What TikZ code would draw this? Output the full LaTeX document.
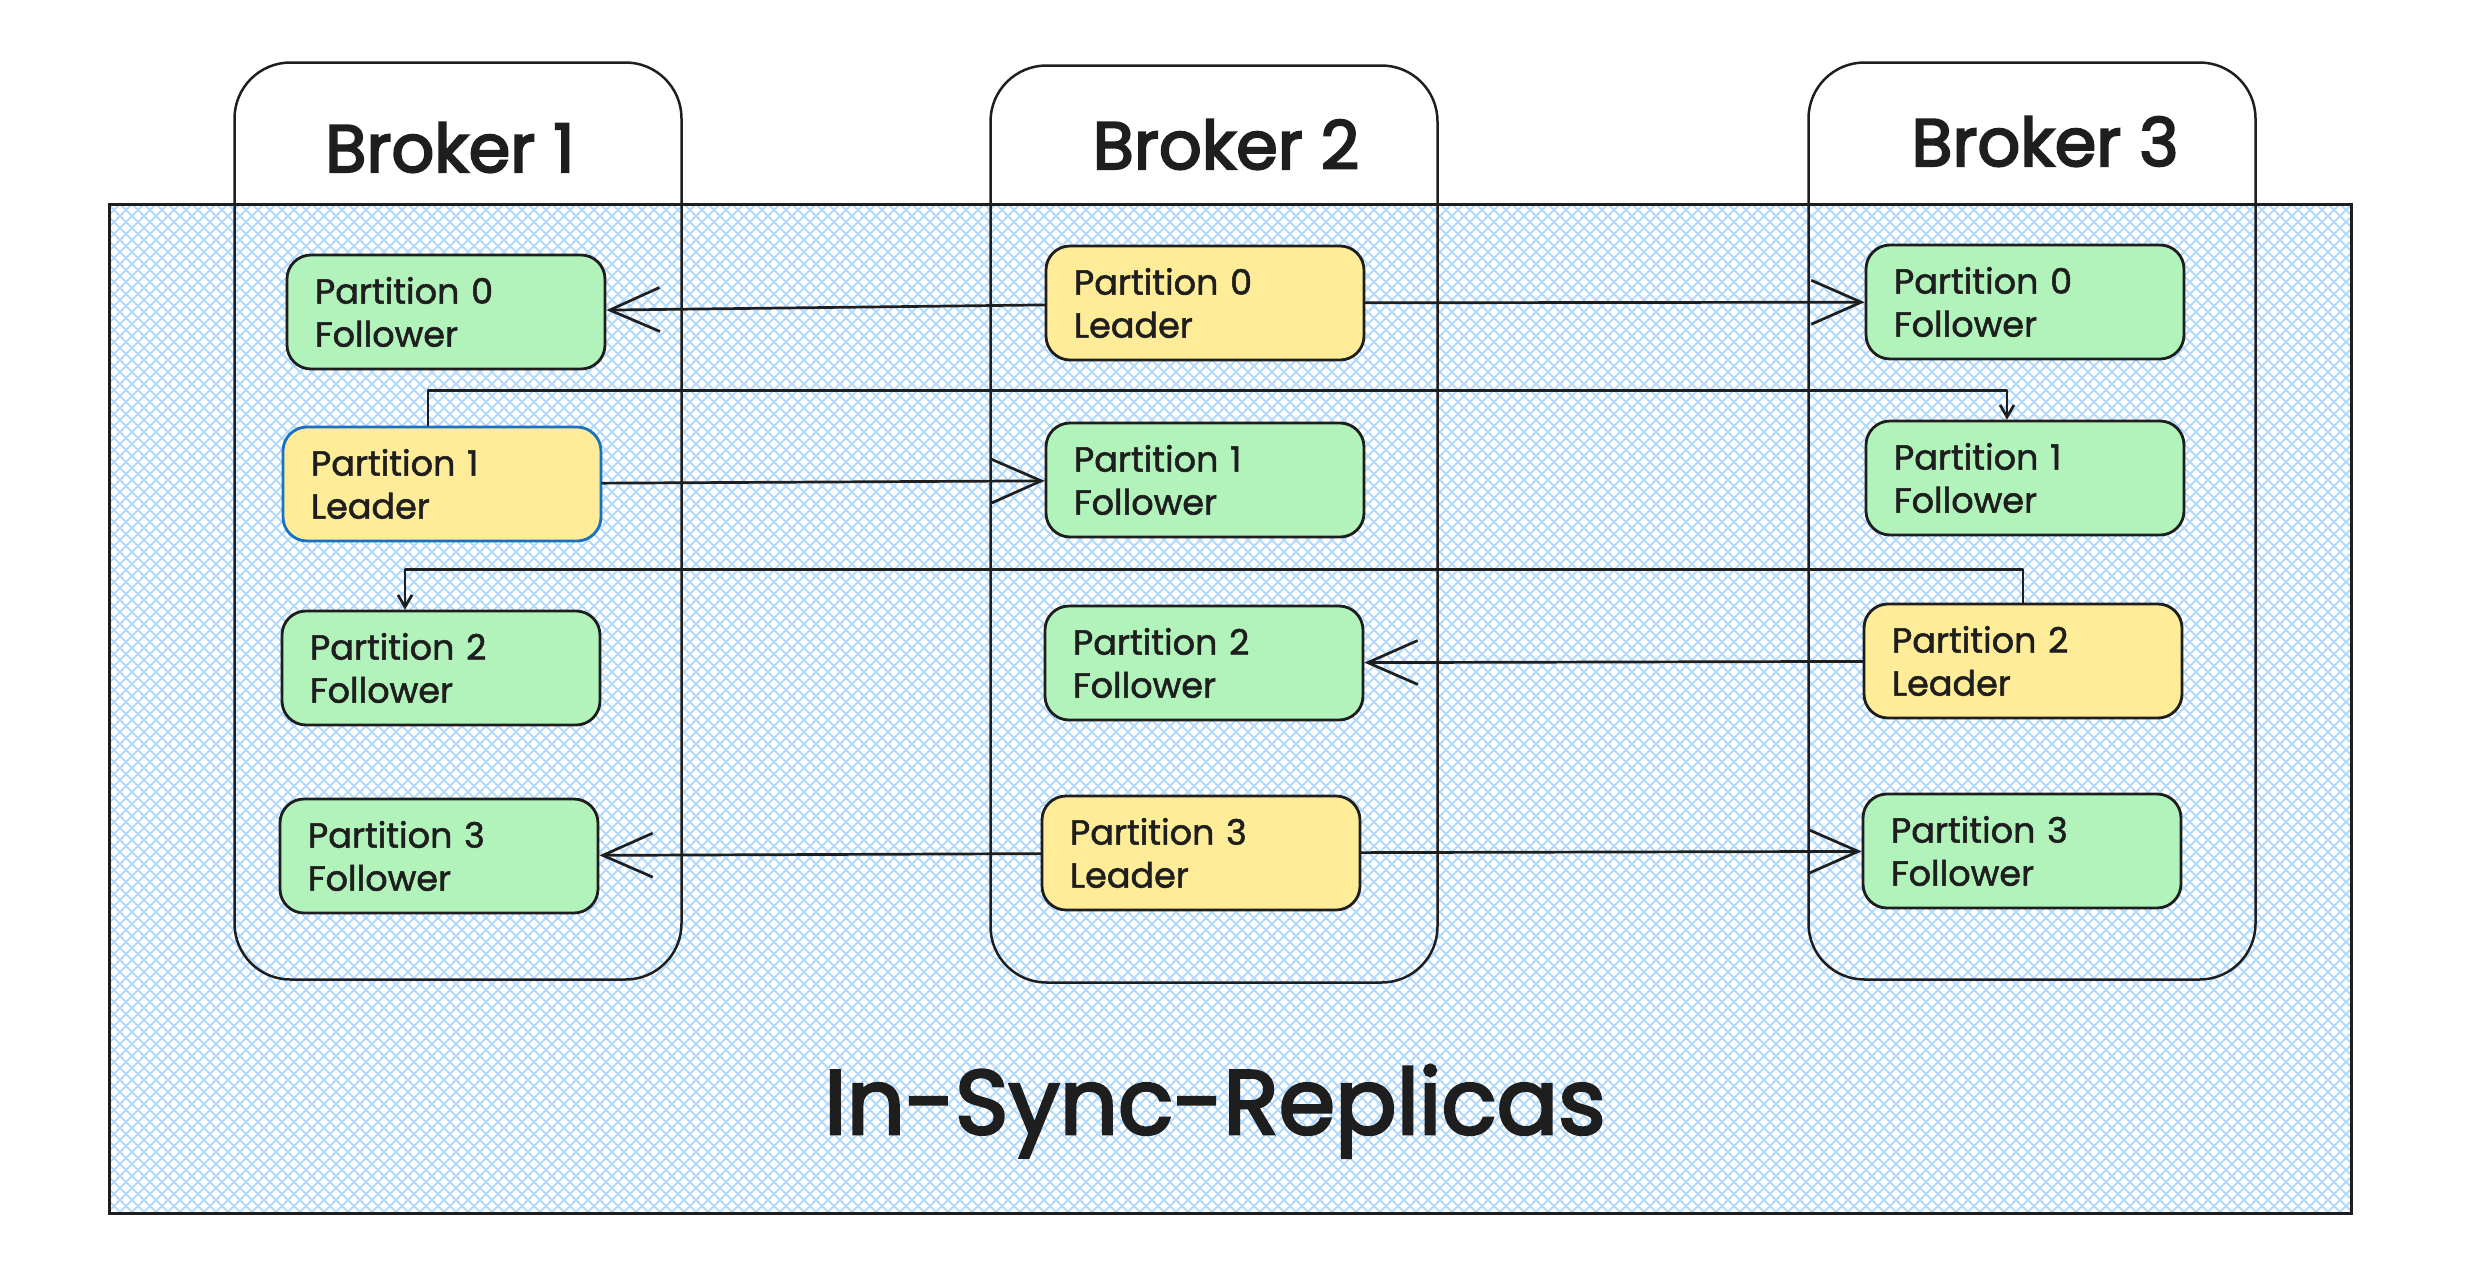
\documentclass[tikz,border=0pt]{standalone}
\usepackage{fontspec}
\setmainfont{Poppins}[FakeBold=1.5]
\newfontfamily\headfont{Poppins}[FakeBold=3]
\usetikzlibrary{arrows.meta}

\definecolor{inkblack}{HTML}{1E1E1E}
\definecolor{followergreen}{HTML}{B2F2BB}
\definecolor{leaderyellow}{HTML}{FFEC99}
\definecolor{hatchblue}{HTML}{B3DAFD}
\definecolor{edgeblue}{HTML}{1971C2}

\tikzset{
  broker/.style={draw=inkblack, line width=2.5pt, rounded corners=56pt,
    minimum width=447pt, minimum height=917pt},
  brokertitle/.style={anchor=base, text=inkblack, font=\headfont\fontsize{67}{80}\selectfont},
  partition/.style={draw=inkblack, line width=2.8pt, rounded corners=24pt,
    minimum width=318pt, minimum height=114pt, text width=262pt, inner xsep=28pt,
    align=left, text=inkblack, font=\fontsize{35}{43}\selectfont},
  follower/.style={partition, fill=followergreen},
  leader/.style={partition, fill=leaderyellow},
  sync/.style={draw=inkblack, line width=2.7pt, line cap=round, line join=round,
    -{Straight Barb[length=50pt, width=44pt]}},
  elbow/.style={draw=inkblack, line width=2.7pt, line join=round,
    -{Straight Barb[length=12pt, width=14pt]}},
}

\begin{document}
\begin{tikzpicture}[x=1pt, y=-1pt]
  \useasboundingbox (0,0) rectangle (2476,1280);

  % In-sync area
  \begin{scope}
    \clip (109,204) rectangle (2351,1213);
    \foreach \i in {-900,-888,...,3360}
      \draw[hatchblue, line width=2pt] (\i,204) -- ++(1009,1009) (\i,204) -- ++(-1009,1009);
  \end{scope}
  \draw[inkblack, line width=3pt] (109,204) rectangle (2351,1213);
  \node[anchor=base, text=inkblack, font=\headfont\fontsize{91}{100}\selectfont] (isr) at (1215,1134) {In-Sync-Replicas};

  % Brokers
  \node[broker] (broker1) at (458,521) {};
  \node[broker] (broker2) at (1214,524) {};
  \node[broker] (broker3) at (2032,521) {};
  \node[brokertitle] (title1) at (450,172) {Broker 1};
  \node[brokertitle] (title2) at (1226,169) {Broker 2};
  \node[brokertitle] (title3) at (2045,166) {Broker 3};

  % Broker 1
  \node[follower] (b1p0) at (446,312) {Partition 0\\Follower};
  \node[leader, draw=edgeblue] (b1p1) at (442,484) {Partition 1\\Leader};
  \node[follower] (b1p2) at (441,668) {Partition 2\\Follower};
  \node[follower] (b1p3) at (439,856) {Partition 3\\Follower};

  % Broker 2
  \node[leader] (b2p0) at (1205,303) {Partition 0\\Leader};
  \node[follower] (b2p1) at (1205,480) {Partition 1\\Follower};
  \node[follower] (b2p2) at (1204,663) {Partition 2\\Follower};
  \node[leader] (b2p3) at (1201,853) {Partition 3\\Leader};

  % Broker 3
  \node[follower] (b3p0) at (2025,302) {Partition 0\\Follower};
  \node[follower] (b3p1) at (2025,478) {Partition 1\\Follower};
  \node[leader] (b3p2) at (2023,661) {Partition 2\\Leader};
  \node[follower] (b3p3) at (2022,851) {Partition 3\\Follower};

  % Replication
  \draw[sync] (b2p0) -- (b1p0);
  \draw[sync] (b2p0) -- (b3p0);
  \draw[sync] (b1p1) -- (b2p1);
  \draw[elbow] ([xshift=-14pt]b1p1.north) -- ++(0,-35) -| ([xshift=-18pt]b3p1.north);
  \draw[sync] (b3p2) -- (b2p2);
  \draw[elbow] (b3p2.north) -- ++(0,-33) -| ([xshift=-36pt]b1p2.north);
  \draw[sync] (b2p3) -- (b1p3);
  \draw[sync] (b2p3) -- (b3p3);
\end{tikzpicture}
\end{document}
